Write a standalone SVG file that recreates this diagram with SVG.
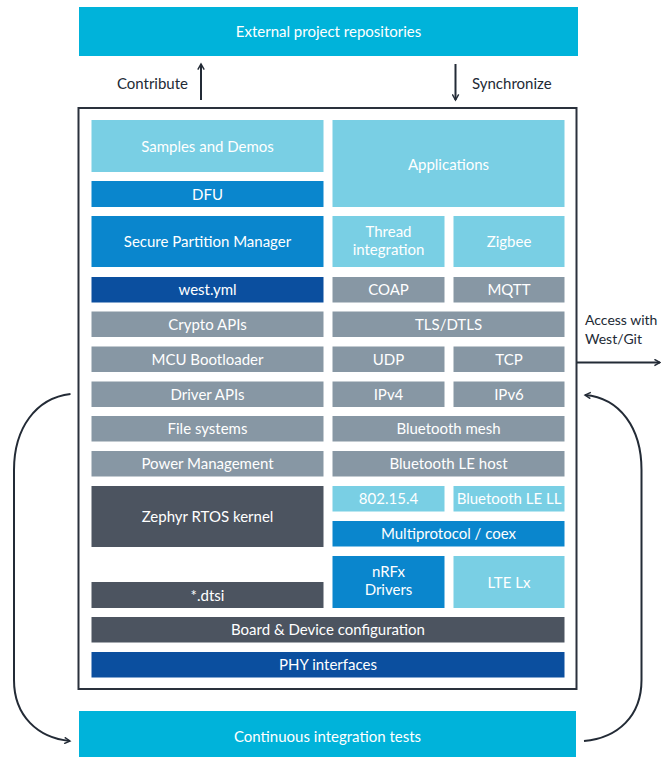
<svg xmlns="http://www.w3.org/2000/svg" width="661" height="757" viewBox="0 0 661 757">
<defs>
<style>
text{font-family:Lato,"Open Sans","Liberation Sans",sans-serif;font-size:15px;fill:#ffffff;text-anchor:middle}
.dk{fill:#222a35}
.st{text-anchor:start}
.en{text-anchor:end}
.sm{font-size:14px}
.cy{fill:#00b3da}
.lb{fill:#79cfe4}
.mb{fill:#0a86cd}
.db{fill:#0b4f9f}
.gr{fill:#8797a4}
.dg{fill:#4c5460}
.ln{fill:none;stroke:#232b36;stroke-width:2}
</style>
<marker id="ah" viewBox="0 0 10 10" refX="8" refY="5" markerWidth="8" markerHeight="8" markerUnits="userSpaceOnUse" orient="auto">
<path d="M1,1 L8,5 L1,9" fill="none" stroke="#232b36" stroke-width="1.8"/>
</marker>
</defs>
<rect width="661" height="757" fill="#ffffff"/>

<g id="external"><rect class="cy" x="79" y="7" width="499" height="49"/><text x="328.5" y="36.5">External project repositories</text></g>
<g id="ci"><rect class="cy" x="79" y="711" width="497" height="46"/><text x="327.5" y="741.5">Continuous integration tests</text></g>

<g id="frame"><rect x="78.5" y="108" width="498" height="581" fill="#ffffff" stroke="#2a313c" stroke-width="2"/></g>

<g id="samples"><rect class="lb" x="91.5" y="120" width="232" height="52"/><text x="207.5" y="151.5">Samples and Demos</text></g>
<g id="dfu"><rect class="mb" x="91.5" y="181" width="232" height="26"/><text x="207.5" y="199.5">DFU</text></g>
<g id="spm"><rect class="mb" x="91.5" y="216" width="232" height="51"/><text x="207.5" y="246.5">Secure Partition Manager</text></g>
<g id="westyml"><rect class="db" x="91.5" y="277" width="232" height="25.5"/><text x="207.5" y="295">west.yml</text></g>
<g id="crypto"><rect class="gr" x="91.5" y="311.5" width="232" height="25.5"/><text x="207.5" y="329.5">Crypto APIs</text></g>
<g id="mcuboot"><rect class="gr" x="91.5" y="346.5" width="232" height="25.5"/><text x="207.5" y="364.5">MCU Bootloader</text></g>
<g id="driverapis"><rect class="gr" x="91.5" y="381.5" width="232" height="25.5"/><text x="207.5" y="399.5">Driver APIs</text></g>
<g id="fs"><rect class="gr" x="91.5" y="416" width="232" height="25.5"/><text x="207.5" y="434">File systems</text></g>
<g id="pm"><rect class="gr" x="91.5" y="451" width="232" height="25.5"/><text x="207.5" y="469">Power Management</text></g>
<g id="zephyr"><rect class="dg" x="91.5" y="486" width="232" height="61"/><text x="207.5" y="521.5">Zephyr RTOS kernel</text></g>
<g id="dtsi"><rect class="dg" x="91.5" y="582" width="232" height="26"/><text x="207.5" y="600.5">*.dtsi</text></g>
<g id="board"><rect class="dg" x="91.5" y="617" width="473" height="25.5"/><text x="328" y="635">Board &amp; Device configuration</text></g>
<g id="phy"><rect class="db" x="91.5" y="652" width="473" height="25.5"/><text x="328" y="670">PHY interfaces</text></g>

<g id="apps"><rect class="lb" x="332.5" y="120" width="232" height="87"/><text x="448.5" y="169.5">Applications</text></g>
<g id="thread"><rect class="lb" x="332.5" y="216" width="112" height="51"/><text x="388.5" y="237">Thread</text><text x="388.5" y="254.5">integration</text></g>
<g id="zigbee"><rect class="lb" x="453.5" y="216" width="111" height="51"/><text x="509" y="246.5">Zigbee</text></g>
<g id="coap"><rect class="gr" x="332.5" y="277" width="112" height="25.5"/><text x="388.5" y="295">COAP</text></g>
<g id="mqtt"><rect class="gr" x="453.5" y="277" width="111" height="25.5"/><text x="509" y="295">MQTT</text></g>
<g id="tls"><rect class="gr" x="332.5" y="311.5" width="232" height="25.5"/><text x="448.5" y="329.5">TLS/DTLS</text></g>
<g id="udp"><rect class="gr" x="332.5" y="346.5" width="112" height="25.5"/><text x="388.5" y="364.5">UDP</text></g>
<g id="tcp"><rect class="gr" x="453.5" y="346.5" width="111" height="25.5"/><text x="509" y="364.5">TCP</text></g>
<g id="ipv4"><rect class="gr" x="332.5" y="381.5" width="112" height="25.5"/><text x="388.5" y="399.5">IPv4</text></g>
<g id="ipv6"><rect class="gr" x="453.5" y="381.5" width="111" height="25.5"/><text x="509" y="399.5">IPv6</text></g>
<g id="btmesh"><rect class="gr" x="332.5" y="416" width="232" height="25.5"/><text x="448.5" y="434">Bluetooth mesh</text></g>
<g id="blehost"><rect class="gr" x="332.5" y="451" width="232" height="25.5"/><text x="448.5" y="469">Bluetooth LE host</text></g>
<g id="ieee"><rect class="lb" x="332.5" y="486" width="112" height="25.5"/><text x="388.5" y="504">802.15.4</text></g>
<g id="blell"><rect class="lb" x="453.5" y="486" width="111" height="25.5"/><text x="509" y="504">Bluetooth LE LL</text></g>
<g id="mpsl"><rect class="mb" x="332.5" y="521" width="232" height="25.5"/><text x="448.5" y="539">Multiprotocol / coex</text></g>
<g id="nrfx"><rect class="mb" x="332.5" y="556" width="112" height="52"/><text x="388.5" y="577">nRFx</text><text x="388.5" y="594.5">Drivers</text></g>
<g id="lte"><rect class="lb" x="453.5" y="556" width="111" height="52"/><text x="509" y="587.5">LTE Lx</text></g>

<g id="labels">
<text class="dk en" x="188" y="88.5">Contribute</text>
<text class="dk st" x="472" y="88.5">Synchronize</text>
<text class="dk st sm" x="585" y="325">Access with</text>
<text class="dk st sm" x="585" y="344">West/Git</text>
</g>

<g id="connectors">
<path class="ln" d="M201,100 L201,64" marker-end="url(#ah)"/>
<path class="ln" d="M455.5,64 L455.5,100" marker-end="url(#ah)"/>
<path class="ln" d="M577,362.5 L660,362.5" marker-end="url(#ah)"/>
<path class="ln" d="M70.5,394 C36,398 14,428 14,470 L14,680 C14,716 38,738 70,741" marker-end="url(#ah)"/>
<path class="ln" d="M584,741 C618,738 641.5,716 641.5,680 L641.5,470 C641.5,428 620,398 585,395" marker-end="url(#ah)"/>
</g>
</svg>
